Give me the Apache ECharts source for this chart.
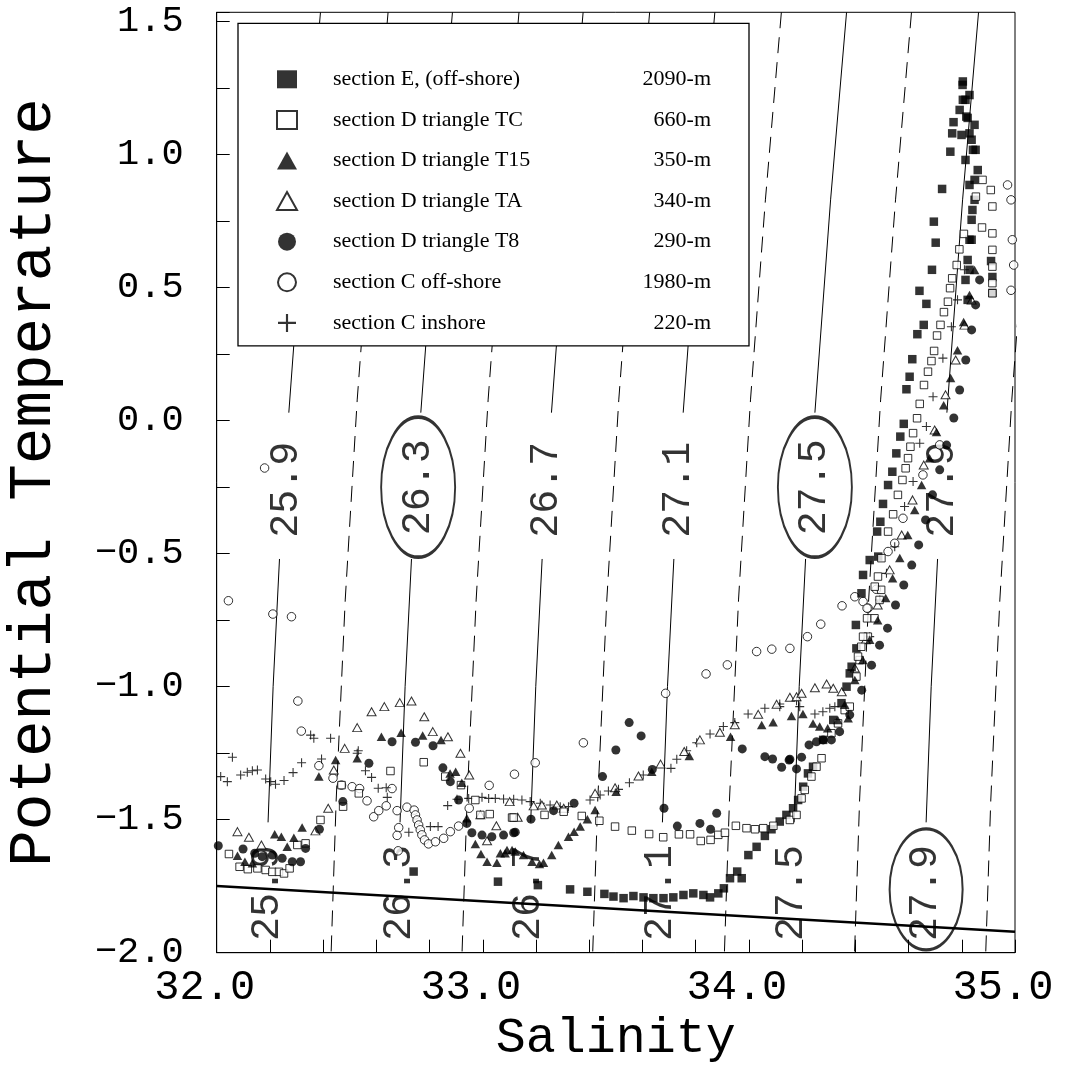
<!DOCTYPE html>
<html>
<head>
<meta charset="utf-8">
<script src="https://cdn.jsdelivr.net/npm/echarts@6/dist/echarts.min.js"></script>
<style>html,body{margin:0;padding:0;background:#fff;}#c{width:1065px;height:1082px;}</style>
</head>
<body>
<div id="c"></div>
<script>
// ---------------- data (salinity, potential temperature) ----------------
const legendNames = ['section E, (off-shore)','section D triangle TC','section D triangle T15','section D triangle TA','section D triangle T8','section C off-shore','section C inshore'];
const legendDepths = ['2090-m','660-m','350-m','340-m','290-m','1980-m','220-m'];

const sectionE = [
[32.740,-1.695],[33.057,-1.733],[33.207,-1.746],[33.328,-1.762],[33.393,-1.771],[33.457,-1.779],
[33.491,-1.789],[33.529,-1.795],[33.566,-1.787],[33.604,-1.792],[33.641,-1.795],[33.679,-1.795],[33.716,-1.792],[33.754,-1.783],[33.791,-1.777],[33.829,-1.783],[33.854,-1.792],[33.885,-1.777],[33.906,-1.758],[33.929,-1.720],[33.956,-1.695],[33.973,-1.720],[33.998,-1.633],[34.029,-1.602],[34.060,-1.561],[34.085,-1.536],[34.116,-1.507],[34.141,-1.482],[34.166,-1.457],[34.185,-1.426],
[34.204,-1.376],[34.222,-1.326],[34.241,-1.301],[34.279,-1.200],[34.317,-1.125],[34.348,-1.062],[34.367,-1.000],[34.379,-0.950],[34.386,-0.925],[34.404,-0.856],[34.402,-0.768],[34.423,-0.649],[34.429,-0.580],[34.454,-0.524],
[34.486,-0.511],[34.482,-0.417],[34.494,-0.380],[34.504,-0.313],[34.523,-0.242],[34.539,-0.192],[34.554,-0.123],[34.569,-0.060],[34.582,-0.012],[34.592,0.118],[34.604,0.165],[34.614,0.231],[34.633,0.325],[34.657,0.360],[34.667,0.439],[34.641,0.488],[34.688,0.567],[34.702,0.669],[34.695,0.748],[34.726,0.871],[34.757,1.011],[34.764,1.080],[34.769,1.122],[34.804,1.206],[34.804,1.275],[34.817,1.143],[34.829,1.080],[34.842,1.018],[34.848,0.905],[34.840,0.792],[34.837,0.680],[34.829,0.567],[34.822,0.454],
[34.803,1.262],[34.814,1.206],[34.792,1.168],[34.829,1.224],[34.822,1.138],[34.848,1.112],[34.837,1.056],[34.799,1.074],[34.852,1.018],[34.814,0.980],[34.860,0.942],[34.829,0.886],[34.848,0.830],[34.837,0.755],[34.829,0.680],[34.822,0.604],[34.814,0.529],[34.910,0.600],[34.915,0.540],[34.915,0.480]
];
const sectionTC = [
[32.046,-1.629],[32.086,-1.677],[32.117,-1.686],[32.153,-1.683],[32.184,-1.689],[32.209,-1.696],[32.234,-1.696],[32.253,-1.702],[32.274,-1.683],[32.303,-1.595],[32.334,-1.589],[32.390,-1.501],[32.475,-1.451],[32.469,-1.370],[32.534,-1.401],[32.653,-1.317],[32.778,-1.284],[32.859,-1.338],[32.918,-1.370],[32.972,-1.426],[32.991,-1.482],[33.026,-1.479],[33.110,-1.492],
[33.116,-1.492],[33.232,-1.482],[33.304,-1.470],[33.372,-1.486],[33.438,-1.504],[33.497,-1.526],[33.560,-1.541],[33.625,-1.554],[33.678,-1.566],[33.737,-1.555],[33.779,-1.555],[33.819,-1.580],[33.856,-1.576],[33.885,-1.557],[33.910,-1.549],[33.951,-1.523],[33.991,-1.532],[34.023,-1.536],[34.054,-1.532],[34.092,-1.523],[34.154,-1.501],[34.179,-1.482],
[34.198,-1.420],[34.210,-1.388],[34.235,-1.338],[34.254,-1.301],[34.273,-1.269],[34.310,-1.175],[34.335,-1.138],[34.360,-1.088],[34.379,-1.075],[34.404,-0.962],[34.416,-0.900],[34.422,-0.850],[34.447,-0.812],[34.472,-0.743],[34.491,-0.674],[34.497,-0.636],
[34.410,-0.887],[34.429,-0.812],[34.444,-0.743],[34.473,-0.624],[34.485,-0.586],[34.498,-0.517],[34.523,-0.417],[34.542,-0.352],[34.560,-0.279],[34.577,-0.223],[34.589,-0.179],[34.598,-0.141],[34.607,-0.098],[34.617,-0.047],[34.632,0.009],[34.642,0.063],[34.658,0.134],[34.673,0.184],[34.686,0.224],[34.696,0.262],[34.707,0.320],[34.720,0.360],[34.733,0.408],[34.748,0.447],[34.756,0.498],[34.764,0.535],[34.781,0.585],[34.791,0.644],[34.808,0.702],[34.876,0.726],[34.853,0.842],[34.878,0.905],[34.909,0.867],[34.915,0.805],[34.915,0.704],[34.915,0.642],[34.915,0.579],[34.915,0.517],[34.915,0.479]
];
const sectionT15 = [
[32.078,-1.636],[32.106,-1.658],[32.134,-1.664],[32.218,-1.555],[32.243,-1.564],[32.290,-1.568],[32.321,-1.529],[32.265,-1.602],[32.384,-1.338],[32.447,-1.276],[32.528,-1.269],[32.619,-1.188],[32.693,-1.173],[32.774,-1.184],[32.843,-1.200],[32.877,-1.326],[32.898,-1.320],[32.921,-1.361],[32.940,-1.495],[32.972,-1.591],[32.993,-1.629],[33.016,-1.658],[33.053,-1.662],[33.084,-1.626],[33.110,-1.614],
[33.066,-1.626],[33.091,-1.614],[33.122,-1.620],[33.153,-1.633],[33.185,-1.658],[33.213,-1.667],[33.228,-1.662],[33.259,-1.633],[33.284,-1.595],[33.322,-1.564],[33.343,-1.545],[33.366,-1.526],[33.393,-1.498],[33.422,-1.464],[33.501,-1.395],[33.635,-1.320],[33.776,-1.261],[33.931,-1.188],[34.048,-1.144],[34.091,-1.134],[34.160,-1.110],
[34.203,-1.103],[34.241,-1.138],[34.266,-1.150],[34.296,-1.156],[34.334,-1.125],[34.373,-1.119],
[34.360,-1.068],[34.398,-0.975],[34.428,-0.900],[34.454,-0.824],[34.484,-0.750],[34.514,-0.667],[34.540,-0.592],[34.567,-0.516],[34.597,-0.430],[34.623,-0.336],[34.649,-0.242],[34.679,-0.141],[34.705,-0.043],[34.732,0.058],[34.758,0.160],[34.784,0.265],[34.807,0.371],[34.829,0.472],[34.848,0.566]
];
const sectionTA = [
[32.078,-1.545],[32.121,-1.566],[32.168,-1.595],[32.371,-1.542],[32.419,-1.457],[32.440,-1.313],[32.481,-1.232],[32.528,-1.154],[32.582,-1.094],[32.630,-1.075],[32.688,-1.060],[32.732,-1.054],[32.780,-1.113],[32.812,-1.169],[32.869,-1.188],[32.916,-1.250],[32.949,-1.332],[32.991,-1.482],[33.051,-1.523],[33.016,-1.579],[33.101,-1.432],
[33.131,-1.491],[33.191,-1.448],[33.222,-1.445],[33.278,-1.445],[33.304,-1.457],[33.422,-1.401],[33.497,-1.380],[33.585,-1.336],[33.668,-1.291],[33.757,-1.244],[33.816,-1.200],[33.891,-1.171],[33.947,-1.143],[34.035,-1.104],[34.104,-1.066],[34.154,-1.040],[34.179,-1.038],
[34.198,-1.025],[34.248,-1.004],[34.292,-0.990],[34.317,-1.006],[34.349,-1.019],
[34.398,-0.930],[34.439,-0.824],[34.484,-0.693],[34.529,-0.561],[34.574,-0.430],[34.615,-0.298],[34.657,-0.167],[34.698,-0.035],[34.739,0.097],[34.777,0.228],[34.810,0.359],[34.837,0.453]
];
const sectionT8 = [
[32.006,-1.598],[32.099,-1.610],[32.143,-1.626],[32.171,-1.639],[32.209,-1.633],[32.246,-1.645],[32.284,-1.658],[32.315,-1.658],[32.334,-1.608],[32.386,-1.536],[32.474,-1.432],[32.572,-1.288],[32.659,-1.207],[32.747,-1.209],[32.813,-1.222],[32.850,-1.305],[32.878,-1.357],[32.909,-1.426],[32.940,-1.514],[32.959,-1.549],[32.997,-1.558],[33.034,-1.564],[33.078,-1.558],[33.116,-1.549],
[33.122,-1.547],[33.181,-1.498],[33.266,-1.466],[33.343,-1.438],[33.450,-1.338],[33.500,-1.238],[33.550,-1.135],[33.595,-1.185],[33.637,-1.311],[33.681,-1.457],[33.731,-1.524],[33.816,-1.514],[33.856,-1.536],[33.879,-1.476],[33.975,-1.234],[34.060,-1.263],[34.089,-1.272],[34.123,-1.303],[34.151,-1.276],[34.179,-1.309],
[34.154,-1.273],[34.198,-1.265],[34.226,-1.219],[34.254,-1.207],[34.279,-1.200],[34.310,-1.200],[34.341,-1.169],
[34.379,-1.106],[34.424,-1.013],[34.461,-0.919],[34.491,-0.844],[34.521,-0.780],[34.551,-0.693],[34.582,-0.618],[34.612,-0.543],[34.638,-0.467],[34.664,-0.373],[34.690,-0.279],[34.717,-0.185],[34.743,-0.092],[34.770,0.010],[34.792,0.115],[34.815,0.228],[34.837,0.341],[34.852,0.435],[34.867,0.529]
];
const sectionCoff = [
[32.044,-0.677],[32.211,-0.727],[32.281,-0.737],[32.180,-0.178],[32.305,-1.054],[32.318,-1.167],[32.384,-1.297],[32.437,-1.344],[32.469,-1.370],[32.509,-1.376],[32.537,-1.383],[32.565,-1.429],[32.590,-1.489],[32.609,-1.466],[32.637,-1.448],[32.659,-1.383],[32.678,-1.466],[32.684,-1.530],[32.678,-1.559],[32.682,-1.617],[32.715,-1.453],
[32.742,-1.464],[32.747,-1.482],[32.753,-1.501],[32.759,-1.520],[32.765,-1.538],[32.771,-1.557],[32.781,-1.576],[32.796,-1.591],[32.822,-1.583],[32.853,-1.570],[32.878,-1.545],[32.909,-1.524],[32.949,-1.457],[33.024,-1.371],[33.119,-1.329],
[33.197,-1.286],[33.378,-1.211],[33.687,-1.025],[33.839,-0.952],[33.919,-0.918],[34.029,-0.868],[34.086,-0.859],[34.154,-0.856],[34.220,-0.812],[34.270,-0.765],[34.350,-0.696],[34.398,-0.662],[34.429,-0.680],[34.448,-0.705],
[34.444,-0.705],[34.479,-0.634],[34.523,-0.492],[34.548,-0.461],[34.579,-0.367],[34.654,-0.204],[34.717,-0.091],
[34.972,0.886],[34.985,0.830],[34.990,0.680],[34.995,0.585],[34.985,0.490]
];
const sectionCin = [
[32.015,-1.338],[32.040,-1.357],[32.059,-1.265],[32.090,-1.332],[32.115,-1.322],[32.134,-1.316],[32.153,-1.313],[32.184,-1.347],[32.203,-1.357],[32.221,-1.367],[32.253,-1.353],[32.287,-1.323],[32.319,-1.286],[32.353,-1.182],[32.365,-1.194],[32.428,-1.194],[32.394,-1.272],[32.532,-1.241],[32.528,-1.250],[32.559,-1.316],[32.582,-1.341],[32.607,-1.382],[32.637,-1.380],[32.641,-1.416],[32.722,-1.547],[32.803,-1.526],[32.832,-1.526],
[32.868,-1.447],[32.903,-1.423],[32.947,-1.420],[32.997,-1.416],[33.022,-1.420],[33.047,-1.420],[33.078,-1.422],[33.116,-1.423],[33.147,-1.426],[33.178,-1.432],[33.216,-1.438],[33.253,-1.445],[33.291,-1.451],[33.322,-1.451],
[33.403,-1.426],[33.441,-1.407],[33.472,-1.392],[33.510,-1.386],[33.551,-1.361],[33.603,-1.332],[33.707,-1.307],[33.729,-1.273],[33.766,-1.241],[33.804,-1.211],[33.854,-1.178],[33.904,-1.150],[33.947,-1.135],[33.997,-1.103],[34.060,-1.081],[34.116,-1.065],[34.179,-1.053],
[34.116,-1.075],[34.191,-1.075],[34.248,-1.103],[34.278,-1.094],[34.304,-1.081],[34.323,-1.075],
[34.454,-0.812],[34.492,-0.674],[34.517,-0.574],[34.548,-0.474],[34.585,-0.323],[34.617,-0.229],[34.642,-0.085],[34.667,-0.022],[34.692,0.090],[34.729,0.235],[34.761,0.353],[34.784,0.454],[34.810,0.567]
];

// surface freezing line
const freezeLine = [[32.0,-1.749],[35.0,-1.921]];

// sigma-theta isopycnals
const isoThetaSolid = [1.535, 0.83, 0.03, null, -0.52, -1.0, -1.51];
const iso259 = [32.390, 32.330, 32.271, null, 32.236, 32.212, 32.193];
const iso263 = [32.886, 32.826, 32.767, null, 32.732, 32.708, 32.689];
const iso267 = [33.377, 33.317, 33.258, null, 33.223, 33.199, 33.180];
const iso271 = [33.872, 33.812, 33.753, null, 33.718, 33.694, 33.675];
const iso275 = [34.367, 34.307, 34.248, null, 34.213, 34.189, 34.170];
const iso279 = [34.863, 34.803, 34.744, null, 34.709, 34.685, 34.666];
const isoThetaDashed = [1.535, 0.83, 0.078, -0.674, -1.426, -2.0];
const iso261 = [32.644, 32.584, 32.528, 32.483, 32.449, 32.430];
const iso265 = [33.136, 33.076, 33.020, 32.975, 32.941, 32.922];
const iso269 = [33.627, 33.567, 33.511, 33.466, 33.432, 33.413];
const iso273 = [34.122, 34.062, 34.006, 33.961, 33.927, 33.908];
const iso277 = [34.611, 34.551, 34.495, 34.450, 34.416, 34.397];
const iso281 = [35.104, 35.044, 34.988, 34.943, 34.909, 34.890];

const isoLabelsTop = [[32.261,-0.26,'25.9'],[32.757,-0.25,'26.3'],[33.240,-0.26,'26.7'],[33.735,-0.26,'27.1'],[34.245,-0.25,'27.5'],[34.728,-0.26,'27.9']];
const isoLabelsBottom = [[32.190,-1.776,'25.9'],[32.686,-1.776,'26.3'],[33.170,-1.776,'26.7'],[33.666,-1.776,'27.1'],[34.160,-1.776,'27.5'],[34.662,-1.776,'27.9']];
const isoEllipsesTop = [[32.757,-0.25],[34.248,-0.25]];
const isoEllipsesBottom = [[34.666,-1.762]];

const xTicks = [32.0, 33.0, 34.0, 35.0];
const yTicks = [-2.0, -1.5, -1.0, -0.5, 0.0, 0.5, 1.0, 1.5];

// ---------------- chart ----------------
const MONO = '"Liberation Mono", "DejaVu Sans Mono", monospace';
const SERIF = '"Liberation Serif", "DejaVu Serif", serif';
const chart = echarts.init(document.getElementById('c'), null, {renderer: 'canvas'});

function zip(sArr, tArr) { return sArr.map((s, i) => (s === null ? ['-', '-'] : [s, tArr[i]])); }
const solidLines = [iso259, iso263, iso267, iso271, iso275, iso279].map(a => ({
  type: 'line', data: zip(a, isoThetaSolid), symbol: 'none', silent: true, z: 1,
  connectNulls: false, lineStyle: {color: '#000', width: 1}, animation: false
}));
const dashedLines = [iso261, iso265, iso269, iso273, iso277, iso281].map(a => ({
  type: 'line', data: zip(a, isoThetaDashed), symbol: 'none', silent: true, z: 1,
  lineStyle: {color: '#000', width: 1, type: [16, 9]}, animation: false
}));
function near(v, list) { return list.some(t => Math.abs(v - t) < 1e-6); }
const openStyle = {color: '#fff', borderColor: '#000', borderWidth: 1};
const plusPath = 'path://M0,4.4h10v1.2h-10z M4.4,0h1.2v10h-1.2z';

const option = {
  backgroundColor: '#fff',
  animation: false,
  grid: {left: 216.7, right: 50, top: 12.3, bottom: 129.3, containLabel: false, outerBoundsMode: 'none',
    show: true, borderColor: '#000', borderWidth: 1, backgroundColor: 'transparent'},
  xAxis: {
    type: 'value', min: 32.0, max: 35.0, interval: 0.2,
    name: 'Salinity', nameLocation: 'middle', nameGap: 61,
    nameTextStyle: {fontFamily: MONO, fontSize: 50, color: '#000'},
    axisLine: {onZero: false, lineStyle: {color: '#000', width: 1}},
    axisTick: {inside: true, length: 13, lineStyle: {color: '#000', width: 1}},
    axisLabel: {fontFamily: MONO, fontSize: 42, color: '#000', margin: 14, padding: [0, 24, 0, 0],
      showMinLabel: true, showMaxLabel: true,
      formatter: v => near(v, xTicks) ? v.toFixed(1) : ''},
    splitLine: {show: false}
  },
  yAxis: {
    type: 'value', min: -2.0, max: 1.535, interval: 0.25,
    name: 'Potential Temperature', nameLocation: 'middle', nameGap: 152,
    nameTextStyle: {fontFamily: MONO, fontSize: 61, color: '#000'},
    axisLine: {onZero: false, lineStyle: {color: '#000', width: 1}},
    axisTick: {inside: true, length: 13, lineStyle: {color: '#000', width: 1}},
    axisLabel: {fontFamily: MONO, fontSize: 37, color: '#000', margin: 33,
      formatter: v => near(v, yTicks) ? (v < 0 ? '\u2212' + Math.abs(v).toFixed(1) : v.toFixed(1)) : ''},
    splitLine: {show: false}
  },
  legend: {
    data: legendNames, orient: 'vertical', left: 238, top: 23.3,
    backgroundColor: '#fff', borderColor: '#000', borderWidth: 1.3,
    padding: [45, 38, 12, 38], itemWidth: 20, itemHeight: 18, itemGap: 18.6,
    selectedMode: false, z: 20,
    textStyle: {fontFamily: SERIF, fontSize: 22, color: '#000',
      rich: {g: {width: 31}, n: {width: 300, fontFamily: SERIF, fontSize: 22, lineHeight: 24},
             d: {width: 78, align: 'right', fontFamily: SERIF, fontSize: 22, lineHeight: 24}}},
    formatter: name => '{g|}{n|' + name + '}{d|' + legendDepths[legendNames.indexOf(name)] + '}'
  },
  series: [
    ...solidLines, ...dashedLines,
    {type: 'line', data: freezeLine, symbol: 'none', silent: true, z: 2, lineStyle: {color: '#000', width: 2.5}},
    {type: 'scatter', data: isoEllipsesTop, symbol: 'circle', symbolSize: [74, 140], silent: true, z: 2,
      itemStyle: {color: 'rgba(0,0,0,0)', borderColor: '#000', borderWidth: 2.6}},
    {type: 'scatter', data: isoEllipsesBottom, symbol: 'circle', symbolSize: [73, 121], silent: true, z: 2,
      itemStyle: {color: 'rgba(0,0,0,0)', borderColor: '#000', borderWidth: 2.6}},
    {type: 'scatter', data: isoLabelsTop.concat(isoLabelsBottom).map(d => ({value: [d[0], d[1]], name: d[2]})),
      symbolSize: 1, silent: true, z: 1, itemStyle: {color: 'rgba(0,0,0,0)'},
      label: {show: true, position: 'inside', rotate: 90, formatter: p => p.name,
        fontFamily: MONO, fontSize: 40, color: '#000'}},
    {name: legendNames[5], type: 'scatter', data: sectionCoff, symbol: 'circle', symbolSize: 8.5, z: 3, itemStyle: openStyle},
    {name: legendNames[6], type: 'scatter', data: sectionCin, symbol: plusPath, symbolSize: 9, z: 4, itemStyle: {color: '#000'}},
    {name: legendNames[3], type: 'scatter', data: sectionTA, symbol: 'triangle', symbolSize: [9, 8], z: 5, itemStyle: openStyle},
    {name: legendNames[0], type: 'scatter', data: sectionE, symbol: 'rect', symbolSize: 8.5, z: 6, itemStyle: {color: '#000'}},
    {name: legendNames[1], type: 'scatter', data: sectionTC, symbol: 'rect', symbolSize: 7.5, z: 7, itemStyle: openStyle},
    {name: legendNames[2], type: 'scatter', data: sectionT15, symbol: 'triangle', symbolSize: [9.5, 8.5], z: 8, itemStyle: {color: '#000'}},
    {name: legendNames[4], type: 'scatter', data: sectionT8, symbol: 'circle', symbolSize: 9, z: 9, itemStyle: {color: '#000'}}
  ]
};
chart.setOption(option);
</script>
</body>
</html>
